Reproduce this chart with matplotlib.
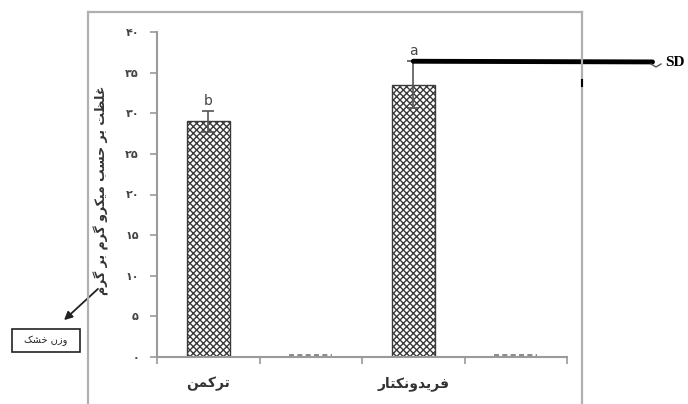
import matplotlib
matplotlib.use("Agg")
import matplotlib.pyplot as plt
from matplotlib.lines import Line2D
from matplotlib.patches import Rectangle

# ---- data -------------------------------------------------------------
categories = ["ترکمن", "", "فریدونکتار", ""]
means = [29.0, 0.0, 33.5, 0.0]
sds = [1.3, 0.0, 2.9, 0.0]
letters = ["b", "", "a", ""]
yticks = [0, 5, 10, 15, 20, 25, 30, 35, 40]
ylabel = "غلظت بر حسب میکرو گرم بر گرم"
note = "وزن خشک"

# ---- simple Persian shaping (presentation forms, visual order) --------
FORMS = {
    "ا": ("\uFE8D", "\uFE8E", None, None),
    "ب": ("\uFE8F", "\uFE90", "\uFE91", "\uFE92"),
    "ت": ("\uFE95", "\uFE96", "\uFE97", "\uFE98"),
    "ح": ("\uFEA1", "\uFEA2", "\uFEA3", "\uFEA4"),
    "خ": ("\uFEA5", "\uFEA6", "\uFEA7", "\uFEA8"),
    "د": ("\uFEA9", "\uFEAA", None, None),
    "ر": ("\uFEAD", "\uFEAE", None, None),
    "ز": ("\uFEAF", "\uFEB0", None, None),
    "س": ("\uFEB1", "\uFEB2", "\uFEB3", "\uFEB4"),
    "ش": ("\uFEB5", "\uFEB6", "\uFEB7", "\uFEB8"),
    "ظ": ("\uFEC5", "\uFEC6", "\uFEC7", "\uFEC8"),
    "غ": ("\uFECD", "\uFECE", "\uFECF", "\uFED0"),
    "ف": ("\uFED1", "\uFED2", "\uFED3", "\uFED4"),
    "ل": ("\uFEDD", "\uFEDE", "\uFEDF", "\uFEE0"),
    "م": ("\uFEE1", "\uFEE2", "\uFEE3", "\uFEE4"),
    "ن": ("\uFEE5", "\uFEE6", "\uFEE7", "\uFEE8"),
    "و": ("\uFEED", "\uFEEE", None, None),
    "ک": ("\uFB8E", "\uFB8F", "\uFB90", "\uFB91"),
    "گ": ("\uFB92", "\uFB93", "\uFB94", "\uFB95"),
    "ی": ("\uFBFC", "\uFBFD", "\uFBFE", "\uFBFF"),
}


def shape(text):
    out = []
    n = len(text)
    for i, ch in enumerate(text):
        if ch not in FORMS:
            out.append(ch)
            continue
        prev = text[i - 1] if i > 0 else ""
        nxt = text[i + 1] if i + 1 < n else ""
        joins_prev = prev in FORMS and FORMS[prev][2] is not None
        joins_next = nxt in FORMS and FORMS[ch][2] is not None
        iso, fin, ini, med = FORMS[ch]
        if joins_prev and joins_next:
            out.append(med)
        elif joins_prev:
            out.append(fin)
        elif joins_next:
            out.append(ini)
        else:
            out.append(iso)
    return "".join(reversed(out))


def fa_digits(v):
    return str(v).translate(str.maketrans("0123456789", "۰۱۲۳۴۵۶۷۸۹"))


plt.rcParams["font.family"] = ["DejaVu Sans"]
plt.rcParams["hatch.color"] = "#3a3a3a"
plt.rcParams["hatch.linewidth"] = 1.0

fig = plt.figure(figsize=(6.88, 4.04), dpi=100)
W, H = 688, 404


def fx(px):
    return px / W


def fy(py):
    return 1 - py / H


ax = fig.add_axes([fx(157), fy(357), fx(567) - fx(157), fy(32) - fy(357)])

x = list(range(len(categories)))
grey = "#9a9a9a"

bars = ax.bar(x, means, width=0.42, color="white", edgecolor="#3a3a3a",
              hatch="xxxxx", linewidth=1.0, zorder=2)
for xi, m, s, lab in zip(x, means, sds, letters):
    if m > 0:
        ax.errorbar(xi, m, yerr=s, fmt="none", ecolor="#555555",
                    elinewidth=1.2, capsize=4, capthick=1.2, zorder=3)
        ax.text(xi, m + s + 0.4, lab, ha="center", va="bottom",
                fontsize=10, color="#444444")
    else:
        ax.plot([xi - 0.21, xi + 0.21], [0.25, 0.25], ls=(0, (3, 2)),
                color="#777777", lw=1.2, zorder=3)

ax.set_xlim(-0.5, len(categories) - 0.5)
ax.set_ylim(0, 40)
ax.set_yticks(yticks)
ax.set_yticklabels([fa_digits(v) for v in yticks], fontsize=8,
                   fontweight="bold", color="#444444")
ax.set_xticks([i - 0.5 for i in range(len(categories) + 1)])
ax.set_xticklabels([])
ax.tick_params(axis="both", direction="out", length=5, width=1.2,
               color=grey)
ax.tick_params(axis="y", pad=8)
for side in ("top", "right"):
    ax.spines[side].set_visible(False)
for side in ("left", "bottom"):
    ax.spines[side].set_color(grey)
    ax.spines[side].set_linewidth(1.5)

for xi, cat in zip(x, categories):
    if cat:
        ax.text(xi, -3.3, shape(cat), ha="center", va="center",
                fontsize=10, fontweight="bold", color="#333333")

# y-axis title
fig.text(fx(101), fy(190), shape(ylabel), rotation=90, ha="center",
         va="center", fontsize=9, fontweight="bold", color="#333333")

# outer frame
frame_kw = dict(color="#b0b0b0", lw=1.6, transform=fig.transFigure)
fig.add_artist(Line2D([fx(88), fx(88)], [0, fy(12)], **frame_kw))
fig.add_artist(Line2D([fx(88), fx(582)], [fy(12), fy(12)], **frame_kw))
fig.add_artist(Line2D([fx(582), fx(582)], [fy(12), 0], **frame_kw))
fig.add_artist(Line2D([fx(582), fx(582)], [fy(80), fy(86)], color="black",
                      lw=1.5, transform=fig.transFigure))

# SD callout
sd_top = means[2] + sds[2]
ax.annotate("SD", xy=(x[2], sd_top), xycoords="data",
            xytext=(fx(665), fy(62)), textcoords="figure fraction",
            ha="left", va="center", fontsize=11, fontweight="bold",
            family="Liberation Serif",
            arrowprops=dict(arrowstyle="-", lw=3.5, color="black",
                            shrinkA=7, shrinkB=0))
fig.add_artist(Line2D([fx(651), fx(656), fx(661)], [fy(64), fy(67), fy(64)],
                      color="#555555", lw=1.0, transform=fig.transFigure))

# dry-weight note box with arrow
fig.add_artist(Rectangle((fx(12), fy(352)), fx(80) - fx(12), fy(329) - fy(352),
                         transform=fig.transFigure, fill=False,
                         edgecolor="#222222", lw=1.2))
fig.text(fx(46), fy(340.5), shape(note), ha="center", va="center",
         fontsize=7, color="#222222")
ax.annotate("", xy=(fx(62), fy(322)), xycoords="figure fraction",
            xytext=(fx(100), fy(287)), textcoords="figure fraction",
            arrowprops=dict(arrowstyle="-|>", lw=1.3, color="#222222",
                            mutation_scale=12))

fig.savefig("out.png", dpi=100)
